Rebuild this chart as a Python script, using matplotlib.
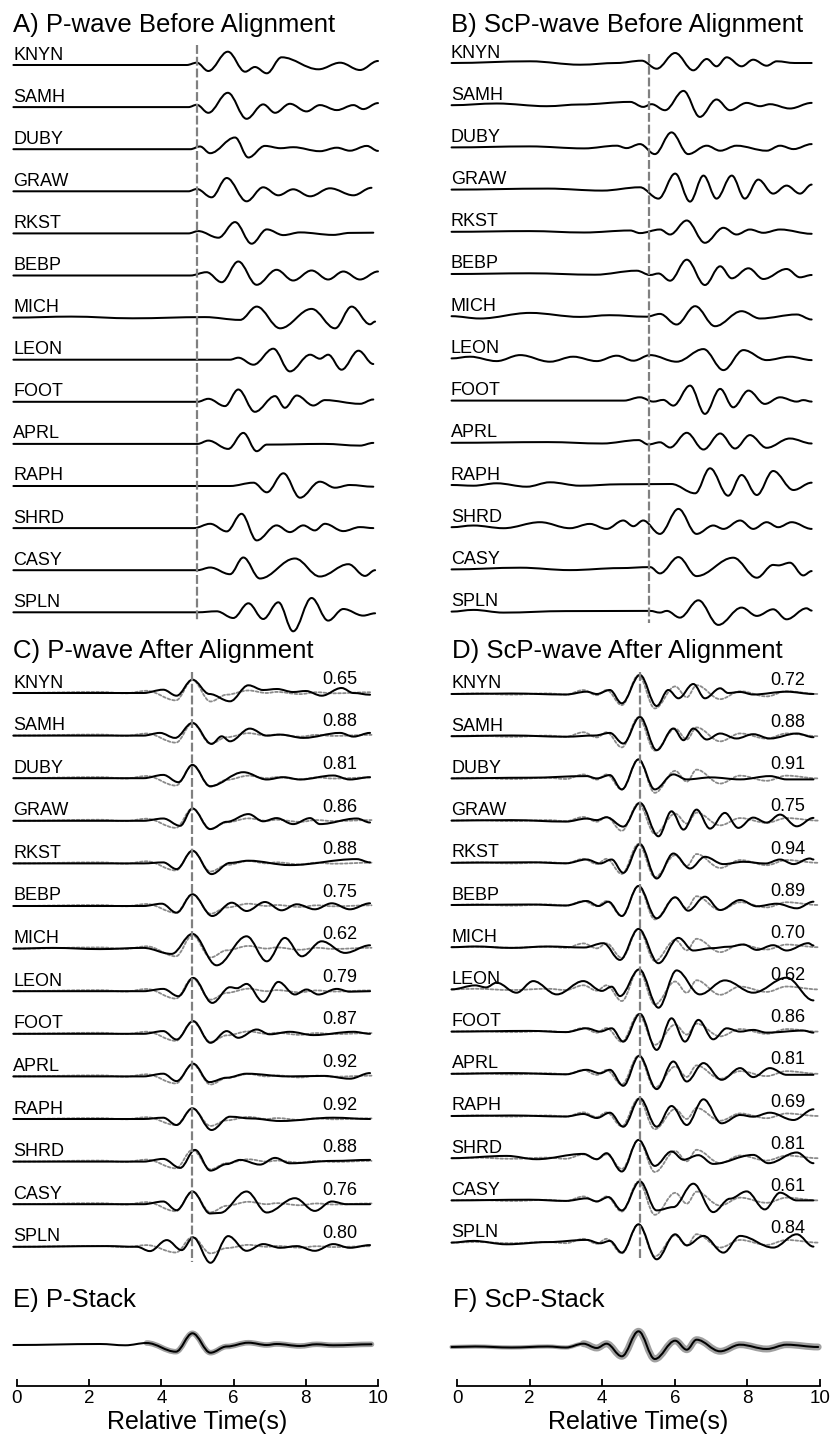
import matplotlib
matplotlib.use("Agg")
import matplotlib.pyplot as plt
from matplotlib.path import Path
from matplotlib.patches import PathPatch

plt.rcParams['font.family'] = ['Liberation Sans', 'DejaVu Sans']

# station order, top to bottom
stations = ["KNYN", "SAMH", "DUBY", "GRAW", "RKST", "BEBP", "MICH",
            "LEON", "FOOT", "APRL", "RAPH", "SHRD", "CASY", "SPLN"]

# waveform turning points: (time s, amplitude px, up = +)
p_before = [
    [(-0.1, 0), (4.70, 0), (4.98, 2.3), (5.30, -6), (5.84, 13.3), (6.32, -6.7), (6.59, -2), (6.92, -8.3), (7.33, 7.7), (8.35, -4.3), (8.95, 2.3), (9.50, -5), (10.0, 4)],
    [(-0.1, 0), (4.75, 0), (4.98, 2.3), (5.30, -5.7), (5.84, 14.3), (6.36, -11.7), (6.82, 2.7), (7.15, -5.7), (7.56, 3.3), (8.02, -4.3), (8.39, 2), (8.86, -3), (9.32, 2), (9.59, -2), (10.0, 4)],
    [(-0.1, 0), (4.80, 0), (5.07, 2.7), (5.35, -4), (6.04, 11.7), (6.41, -8.3), (6.87, 3.3), (7.30, 1), (7.65, 2), (8.39, -2), (8.86, 1.5), (9.22, -1.5), (9.69, 3.3), (10.0, -1.7)],
    [(-0.1, 0), (4.75, 0), (4.98, 2.3), (5.39, -6), (5.81, 13.3), (6.36, -10), (6.82, 4), (7.24, -4), (7.65, 2), (8.12, -5), (8.67, 3), (9.32, -4), (9.82, 3.5)],
    [(-0.1, 0), (4.75, 0), (5.02, 2.3), (5.58, -4.3), (6.04, 11.3), (6.50, -10.3), (6.92, 4), (7.38, -1.7), (7.84, 1), (8.76, -1.5), (9.22, 0.5), (9.87, 0.7)],
    [(-0.1, 0), (4.80, 0), (5.25, 3.3), (5.67, -6.7), (6.13, 14), (6.64, -9.3), (7.19, 5.7), (7.65, -5), (8.16, 5), (8.62, -4), (9.04, 4), (9.50, -4), (10.0, 4)],
    [(-0.1, 0), (1.5, 1), (3.2, -0.7), (5.2, 0.5), (6.18, -2.3), (6.64, 11), (7.29, -10.7), (8.16, 8.7), (8.81, -10.7), (9.27, 11), (9.78, -6.7), (9.92, -4)],
    [(-0.1, 0), (5.9, 0), (6.13, 2), (6.55, -5), (7.10, 11), (7.56, -11.7), (8.12, 5), (8.39, 1), (8.62, 5), (8.99, -10), (9.46, 9), (9.87, -4.3)],
    [(-0.1, 0), (5.0, 0), (5.30, 3), (5.76, -4.3), (6.13, 12.3), (6.59, -10), (7.15, 5.7), (7.42, -6), (7.75, 6.3), (8.21, -3.7), (8.53, 1.7), (9.50, -2), (9.87, 2.3)],
    [(-0.1, 0), (5.0, 0), (5.30, 3.3), (5.85, -5), (6.27, 11), (6.64, -7.3), (6.92, -0.7), (8.5, 0), (9.50, -1.7), (9.87, 1)],
    [(-0.1, 0), (5.9, 0), (6.55, 3.3), (6.92, -6.3), (7.38, 12.7), (7.84, -11.7), (8.39, 4.3), (8.81, -1.7), (9.22, 1), (9.87, -0.7)],
    [(-0.1, 0), (4.9, 0), (5.35, 4.3), (5.81, -3.3), (6.22, 14.3), (6.64, -12.3), (7.19, 2.7), (7.56, -4), (7.93, 2.7), (8.25, -2.3), (8.53, 4.3), (9.04, -3), (9.50, 1), (9.87, 0)],
    [(-0.1, 0), (5.0, 0), (5.35, 2.7), (5.90, -4), (6.27, 12.7), (6.73, -8.3), (7.70, 11.7), (8.39, -6.3), (9.18, 6), (9.64, -5.7), (9.92, 0)],
    [(-0.1, 0), (5.0, 0), (5.53, 1), (5.99, -5.7), (6.41, 9), (6.82, -6.7), (7.24, 10), (7.65, -19), (8.16, 14.3), (8.62, -8.3), (9.04, 3.3), (9.59, -3.3), (9.92, -1)],
]

scp_before = [
    [(-0.15, 0), (2.01, 1.7), (3.39, -1.7), (4.4, 0), (5.09, 2.3), (5.50, -5.7), (6.01, 10), (6.51, -7.3), (6.88, 4), (7.15, -3.3), (7.43, 5.7), (7.84, -3.3), (8.16, 3.3), (8.53, -2.7), (8.81, 1.7), (9.3, 0), (9.77, 0)],
    [(-0.15, 0), (1.09, 1.7), (2.47, -1), (3.39, 0.7), (4.77, 3.3), (5.13, -1.7), (5.36, 1), (5.73, -5), (6.24, 14.3), (6.69, -11.7), (7.15, 5.7), (7.52, -5), (7.98, 2.3), (8.35, -1), (8.62, 1), (9.17, -3.3), (9.77, 2.3)],
    [(-0.15, 0), (2.0, 1), (3.5, -1), (4.40, 1.7), (4.67, -0.7), (5.04, 3.3), (5.45, -6.7), (5.91, 15), (6.37, -6.7), (6.88, 1.7), (7.25, -3.3), (7.70, 1.7), (8.53, -3.3), (8.90, 1.7), (9.27, -1.7), (9.77, 3.3)],
    [(-0.15, 0), (2.5, 1), (4.0, -1), (5.04, 2.3), (5.55, -9), (6.01, 16), (6.42, -12), (6.79, 14), (7.15, -9), (7.57, 14), (7.93, -9), (8.30, 10), (8.71, -4), (9.08, 4), (9.45, -4), (9.77, 5)],
    [(-0.15, 0), (2.0, 0.7), (3.5, -0.7), (4.77, 1.3), (5.04, -1.3), (5.59, 2.3), (5.87, -2.7), (6.33, 11.3), (6.83, -11), (7.34, 4), (7.70, -2.7), (8.07, 2.3), (8.44, -1), (8.90, 2.3), (9.77, -2)],
    [(-0.15, 0), (2.0, 0.7), (3.8, -0.7), (4.95, 3.3), (5.32, -1), (5.55, 0.5), (5.87, -6.7), (6.33, 14.3), (6.83, -11), (7.25, 7.7), (7.57, -4.3), (8.03, 5.7), (8.44, -5), (9.08, 5), (9.45, -3.3), (9.77, -1)],
    [(-0.15, 0), (0.63, -2.3), (2.01, 3.3), (3.39, -0.7), (4.2, 1), (5.22, -0.5), (5.59, 2.3), (6.05, -8.3), (6.56, 10), (7.11, -10), (7.84, 5), (8.35, -2.3), (9.36, 1.7), (9.77, -3.3)],
    [(-0.15, 0), (0.36, 1.7), (1.09, -2.7), (1.74, 3.3), (2.56, -3.3), (3.20, 1.7), (3.85, -2.7), (4.40, 2.7), (4.86, -2.3), (5.32, 3.3), (6.05, -3.3), (6.79, 9.3), (7.34, -11.7), (7.89, 8.3), (8.53, -1.7), (9.17, 1.7), (9.77, -1.7)],
    [(-0.15, 0), (4.6, 0), (5.04, 3.3), (5.41, -1), (5.68, 0.7), (5.96, -5), (6.42, 15), (6.83, -13.3), (7.25, 11.7), (7.61, -6.7), (8.03, 10), (8.48, -3.3), (8.90, 3.3), (9.36, -1), (9.54, 0.5), (9.77, -1)],
    [(-0.15, 0), (2.5, 0.7), (4.0, -0.7), (5.0, 2.7), (5.27, -1.7), (5.59, 0.5), (5.87, -4.7), (6.33, 10), (6.79, -6.7), (7.25, 9.3), (7.66, -5.7), (8.07, 7.7), (8.53, -5), (9.17, 4.3), (9.77, -0.7)],
    [(-0.15, 0), (0.45, -0.7), (1.09, 1.7), (1.92, -1.7), (2.56, 2.7), (3.39, -0.7), (4.5, 0.7), (5.9, 1), (6.56, -8.3), (6.97, 16.7), (7.47, -10.7), (7.84, 10), (8.26, -10), (8.71, 14), (9.27, -5), (9.77, 2.3)],
    [(-0.15, 0), (0.45, 1.7), (1.28, -1), (2.29, 5), (3.11, -1), (3.66, 3.3), (4.12, -1.7), (4.58, 6.7), (4.86, 1), (5.13, 6.7), (5.59, -6.7), (6.10, 18.3), (6.60, -6.7), (7.06, 1.7), (7.34, -1.7), (7.80, 6.7), (8.16, -1.7), (8.53, 5), (8.85, 0), (9.22, 5), (9.77, -1.7)],
    [(-0.15, 0), (1.74, 1.7), (3.11, -0.7), (4.49, 1.3), (5.32, 2.3), (5.59, -4), (6.10, 12.3), (6.60, -6.7), (7.61, 11.7), (8.26, -8.3), (8.71, 4.5), (8.85, 4), (9.17, 6.7), (9.54, -6), (9.77, -1.7)],
    [(-0.15, 0), (0.45, 1.7), (1.28, -1), (3.0, 0.5), (5.32, 0.7), (5.59, -1), (5.78, 0.7), (6.14, -6), (6.65, 11.3), (7.20, -13.3), (7.84, 4), (8.26, -4.3), (8.71, 2.3), (9.08, -7.7), (9.63, 3.3), (9.77, 1)],
]

p_after = [
    [(-0.1, 0), (3.5, 0), (4.05, 3.3), (4.42, -2.7), (4.86, 13.3), (5.33, -1), (5.90, -8.3), (6.41, 7.7), (6.82, 3), (7.20, 4), (7.65, 1), (8.0, 2), (8.44, -2.7), (8.99, 5), (9.32, 0), (9.78, -1.7)],
    [(-0.1, 0), (3.5, 0), (3.96, 2.7), (4.38, -2.3), (4.86, 12.7), (5.39, -8.3), (5.67, -0.7), (5.90, -5.7), (6.45, 7), (6.92, 0), (7.29, 1), (7.93, -2.3), (8.95, 2.7), (9.32, -1), (9.78, 2.7)],
    [(-0.1, 0), (3.5, 0), (4.05, 3.3), (4.47, -4), (4.86, 13.3), (5.35, -8), (6.27, 6), (6.92, -1.3), (7.38, 1), (7.84, -1.3), (8.76, 2.7), (9.22, -1.3), (9.78, 1)],
    [(-0.1, 0), (3.5, 0), (4.05, 2.3), (4.52, -5), (4.86, 12.3), (5.35, -8.3), (5.81, -1), (6.41, 6.7), (6.82, -0.5), (7.19, 2.7), (7.65, -3.3), (8.12, 2.7), (8.39, -3.3), (9.41, 2.3), (9.78, -1.7)],
    [(-0.1, 0), (3.5, 0), (4.05, 1), (4.42, -5.7), (4.86, 12.7), (5.39, -10.7), (5.90, 0.5), (6.41, 2.7), (7.56, -1.7), (9.41, 4.3), (9.78, 1)],
    [(-0.1, 0), (3.5, 0), (4.01, 2.3), (4.42, -6.7), (4.86, 11.7), (5.41, -10), (5.95, 3.3), (6.36, -5), (6.87, 4), (7.33, -4.3), (7.75, 1.7), (8.25, -3.3), (8.72, 2.7), (9.22, -3.3), (9.78, 2.7)],
    [(-0.1, 0), (1.0, 0.7), (2.3, -0.5), (3.5, 0.7), (4.28, -5.3), (4.86, 14.7), (5.53, -16.7), (6.36, 12.3), (6.92, -12.7), (7.42, 10.7), (7.89, -7.7), (8.44, 7.3), (9.09, -4.3), (9.78, 3.3)],
    [(-0.1, 0), (3.5, 0), (4.05, 2.3), (4.47, -5), (4.88, 13.3), (5.41, -11.7), (5.90, 4), (6.09, 3), (6.36, 7.3), (6.82, -10.7), (7.24, 9.3), (7.70, -3.3), (8.02, 1.7), (8.35, -3.3), (8.86, 2.3), (9.22, -0.5), (9.78, 0)],
    [(-0.1, 0), (3.5, 0), (4.05, 2.7), (4.42, -5.7), (4.88, 12.7), (5.36, -9), (5.81, 2.7), (6.13, -4), (6.64, 4.3), (7.0, -0.5), (7.56, 2), (8.21, -1.3), (9.32, 2), (9.78, 0)],
    [(-0.1, 0), (3.5, 0), (4.05, 2.7), (4.42, -4.7), (4.88, 12.7), (5.33, -5.7), (5.81, -1.3), (6.36, 2.7), (7.5, 0), (8.5, 0.5), (9.22, -2.3), (9.78, 3.3)],
    [(-0.1, 0), (3.5, 0), (4.05, 1.3), (4.42, -6), (4.86, 10.7), (5.39, -11), (5.90, 2.3), (6.5, 0.5), (7.29, -2), (8.76, 1.3), (9.78, 0)],
    [(-0.1, 0), (3.5, 0), (4.05, 2.7), (4.52, -6.3), (4.93, 11.7), (5.36, -9), (5.81, -2.5), (6.18, 1.7), (6.73, -3), (7.15, 3.7), (7.56, -1.7), (8.76, 0.7), (9.78, 1.7)],
    [(-0.1, 0), (3.5, 0), (4.05, 2.7), (4.42, -6), (4.86, 12.7), (5.35, -9.3), (5.62, -8.7), (6.36, 12.7), (6.92, -8.3), (7.70, 6), (8.25, -6.7), (8.72, 2.7), (9.13, 0), (9.78, 0)],
    [(-0.1, 0), (2.5, 0.7), (3.32, 0), (3.68, -4.3), (4.15, 6.7), (4.56, -3.3), (4.88, 9.3), (5.36, -16), (5.85, 10.7), (6.36, -4), (6.82, 2.7), (7.29, -1), (7.75, 0.7), (8.25, -4), (8.76, 2.7), (9.22, -1), (9.78, 1.7)],
]

scp_after = [
    [(-0.15, 0), (1.5, 0.5), (3.0, -0.5), (3.57, 2.3), (3.85, 0), (4.21, 4), (4.54, -9.3), (5.04, 19), (5.50, -12), (5.82, 4), (6.10, -4.3), (6.51, 10), (6.83, -4.3), (7.25, 5.7), (7.47, 1), (7.80, 2), (8.16, -0.5), (9.08, 2.3), (9.82, 0)],
    [(-0.15, 0), (1.5, 0.7), (3.0, -0.5), (3.8, 0.7), (4.21, 3.3), (4.58, -7.3), (5.04, 19.3), (5.50, -14), (5.96, 7.7), (6.24, -4), (6.51, 7.7), (6.88, -3.3), (7.25, 2.7), (7.70, -2.3), (8.16, 2), (8.62, -2.3), (9.36, 2.7), (9.82, -1)],
    [(-0.15, 0), (2.0, 0.7), (3.57, 2.3), (3.85, 0), (4.21, 3.3), (4.54, -11), (5.00, 19), (5.45, -11), (5.96, 4), (6.33, -1), (7.0, 1), (7.8, -1), (8.62, 2.3), (9.08, -1), (9.82, -1)],
    [(-0.15, 0), (1.5, 0.5), (3.0, -1), (3.57, 2), (3.85, 0.5), (4.12, 3.3), (4.58, -6), (5.04, 17.7), (5.55, -15.7), (5.91, 9.3), (6.24, -9), (6.60, 11), (6.97, -8), (7.38, 7.7), (7.75, -7.3), (8.16, 3), (8.53, -2), (8.90, 6), (9.36, -5.7), (9.82, 2.7)],
    [(-0.15, 0), (2.0, 0.5), (3.0, -0.5), (3.57, 3.3), (3.94, -0.7), (4.26, 3.3), (4.58, -10), (5.04, 18.7), (5.50, -15.7), (5.96, 9.3), (6.42, -5.7), (6.83, 6), (7.34, -1.3), (7.89, 1), (8.5, -0.7), (8.90, 3.3), (9.27, -1.3), (9.72, 4.3), (9.82, 3.3)],
    [(-0.15, 0), (2.0, 0.5), (3.0, -0.5), (3.57, 4), (3.90, -1), (4.17, 3.3), (4.54, -11), (5.00, 19), (5.50, -13.3), (6.01, 7.7), (6.37, -5.7), (6.83, 8.3), (7.25, -5), (7.80, 5), (8.26, -1.3), (8.81, 1.3), (9.36, -3.3), (9.82, 3.3)],
    [(-0.15, 0), (0.5, 0.7), (1.5, -0.7), (2.5, 0.7), (3.5, -0.3), (4.03, 4), (4.49, -12.7), (5.00, 18.3), (5.55, -16), (6.10, 9.3), (6.51, -3.3), (7.0, -1), (7.5, 0.5), (7.89, 2.7), (8.26, -2.7), (8.71, 2), (9.08, -3.3), (9.68, 4), (9.82, 1.7)],
    [(-0.15, 0), (0.5, 4), (0.8, 2), (1.09, 6.7), (1.64, -3.3), (2.10, 8.3), (2.75, -5), (3.48, 8.3), (3.99, -1.5), (4.26, 2.7), (4.49, -6.7), (5.02, 20), (5.55, -18.3), (6.05, 19), (6.69, -5), (7.38, 9), (8.16, -3.3), (9.08, 11.7), (9.82, -11)],
    [(-0.15, 0), (2.0, 0.7), (3.0, -0.5), (3.57, 3.3), (3.94, 0), (4.26, 3.3), (4.58, -10), (5.04, 17.7), (5.50, -18.3), (5.91, 13.3), (6.28, -10), (6.65, 11.7), (7.06, -7.7), (7.43, 3.3), (7.80, 0), (8.16, 1.7), (8.53, -1), (9.54, 1), (9.82, -1)],
    [(-0.15, 0), (1.5, 0.7), (3.0, -0.5), (3.57, 4), (3.94, 0.5), (4.21, 4), (4.58, -12), (5.02, 18), (5.50, -15.3), (5.96, 12.3), (6.33, -7.7), (6.79, 10.7), (7.29, -6), (7.80, 5.7), (8.16, -3.3), (8.62, 5.7), (9.08, -1), (9.82, -1)],
    [(-0.15, 0), (1.5, 0.5), (3.0, -0.5), (3.48, 2), (3.85, -2), (4.21, 3.3), (4.58, -10.7), (5.04, 17.7), (5.50, -10.7), (5.91, 10), (6.33, -9), (6.79, 16.7), (7.29, -7.3), (7.80, 1), (8.16, -0.7), (8.62, 3.3), (9.27, -4), (9.82, 6.7)],
    [(-0.15, 0), (1.37, 2.3), (2.19, -1), (3.48, 4.3), (3.85, -1), (4.12, 5), (4.54, -13.3), (5.00, 18.3), (5.45, -7.7), (5.91, 6.7), (6.24, -1.5), (6.65, 3), (7.06, -5.7), (8.16, 3.3), (8.58, -5), (9.36, 5.7), (9.82, -5)],
    [(-0.15, 0), (2.0, 0.7), (3.0, -0.5), (3.57, 2), (3.85, -1), (4.17, 3.3), (4.54, -10), (5.04, 19), (5.50, -10), (5.96, -6.7), (6.51, 16.7), (7.06, -11.7), (7.52, 1.7), (7.98, 9), (8.48, -9), (8.90, 7.7), (9.36, 0), (9.82, 0)],
    [(-0.15, 0), (0.45, 1.7), (1.37, -1.7), (2.5, 0.5), (3.57, 2.7), (3.94, -0.7), (4.21, 1.7), (4.54, -10), (5.00, 18.3), (5.50, -16.7), (6.01, 8.3), (6.33, -2.7), (6.79, 6.7), (7.34, -10), (7.80, 6.7), (8.71, -5), (9.36, 8.3), (9.82, -4)],
]

p_stack = [(-0.1, 0), (2.3, 1), (3.0, -0.3), (3.59, 2), (4.40, -6.7), (4.86, 11.7), (5.36, -7.7), (5.81, -1.5), (6.41, 2.3), (6.92, 0), (7.19, 1), (7.84, -1), (8.30, 0.7), (8.76, -0.3), (9.82, 0.7)]
scp_stack = [(-0.15, 0), (0.5, 0.5), (1.5, -0.5), (2.5, 0.5), (3.0, -0.5), (3.48, 3.3), (3.85, -1), (4.12, 3.3), (4.54, -9.3), (5.00, 15.7), (5.45, -12), (6.01, 6.3), (6.33, -2.7), (6.60, 7.3), (7.25, -4.3), (7.80, 2.3), (8.53, -2), (9.08, 2.3), (9.95, 0)]

# stack overlay gain per station (dotted curves in C and D)
p_gain = [1.1, 1.05, 1.1, 1.05, 1.05, 1.0, 1.15, 1.1, 1.05, 1.05, 0.9, 1.0, 1.05, 0.85]
scp_gain = [1.2, 1.2, 1.2, 1.1, 1.2, 1.2, 1.15, 1.25, 1.1, 1.15, 1.1, 1.15, 1.2, 1.15]

# cross-correlation coefficients
p_cc = [0.65, 0.88, 0.81, 0.86, 0.88, 0.75, 0.62, 0.79, 0.87, 0.92, 0.92, 0.88, 0.76, 0.80]
scp_cc = [0.72, 0.88, 0.91, 0.75, 0.94, 0.89, 0.70, 0.62, 0.86, 0.81, 0.69, 0.81, 0.61, 0.84]

K = 0.363  # bezier handle, gives a cosine-like swing between turning points
W, H = 834, 1438
AX_BOTTOM = 1386


def draw_wave(ax, pts, base, gain=1.0, **style):
    """Smooth curve through turning points, drawn as a bezier path."""
    verts = [(pts[0][0], base - gain * pts[0][1])]
    codes = [Path.MOVETO]
    for (t0, a0), (t1, a1) in zip(pts[:-1], pts[1:]):
        h = K * (t1 - t0)
        y0 = base - gain * a0
        y1 = base - gain * a1
        verts += [(t0 + h, y0), (t1 - h, y1), (t1, y1)]
        codes += [Path.CURVE4] * 3
    ax.add_patch(PathPatch(Path(verts, codes), fill=False, clip_on=False,
                           capstyle='round', joinstyle='round', **style))


def column_axes(x0, x10):
    ax = fig.add_axes([x0 / W, (H - AX_BOTTOM) / H, (x10 - x0) / W, AX_BOTTOM / H])
    ax.set_xlim(0, 10)
    ax.set_ylim(AX_BOTTOM, 0)
    ax.patch.set_visible(False)
    for s in ('left', 'top', 'right'):
        ax.spines[s].set_visible(False)
    ax.spines['bottom'].set_linewidth(1.3)
    ax.set_yticks([])
    ax.set_xticks(range(0, 11, 2))
    ax.tick_params(axis='x', direction='in', length=5, width=1.3, labelsize=13.5, pad=3)
    ax.set_xlabel('Relative Time(s)', fontsize=18, labelpad=2)
    return ax


fig = plt.figure(figsize=(W / 100, H / 100), dpi=100)
left = column_axes(17, 378)
right = column_axes(457, 820)

solid = dict(edgecolor='black', linewidth=1.45)
dotted = dict(edgecolor='#8a8a8a', linewidth=1.3, linestyle=(0, (1.5, 1.2)))
dash_kw = dict(color='#808080', linewidth=1.6, dashes=(4, 1.3))
label_fs = 13
title_fs = 18.5

panels = [
    # ax, title, title_x, title_y, label_x, first row, row step
    (left, "A) P-wave Before Alignment", -0.11, 32, -0.11, 65, 42.1),
    (right, "B) ScP-wave Before Alignment", -0.17, 32, -0.17, 63, 42.2),
    (left, "C) P-wave After Alignment", -0.11, 658, -0.11, 693, 42.6),
    (right, "D) ScP-wave After Alignment", -0.14, 658, -0.15, 694, 42.2),
]

for ax, title, tx, ty, lx, y0, dy in panels:
    ax.text(tx, ty, title, fontsize=title_fs, va='baseline', ha='left')
    for i, name in enumerate(stations):
        base = y0 + dy * i
        ax.text(lx, base - 5.5, name, fontsize=label_fs, va='baseline', ha='left')

# panels A, B: raw traces
for i in range(len(stations)):
    draw_wave(left, p_before[i], 65 + 42.1 * i, **solid)
    draw_wave(right, scp_before[i], 63 + 42.2 * i, **solid)
left.plot([4.98, 4.98], [45, 622], **dash_kw)
right.plot([5.30, 5.30], [54, 623], **dash_kw)

# panels C, D: aligned traces with stack overlay and correlation values
for i in range(len(stations)):
    bc = 693 + 42.6 * i
    bd = 694 + 42.2 * i
    draw_wave(left, p_stack, bc, gain=p_gain[i], **dotted)
    draw_wave(left, p_after[i], bc, **solid)
    draw_wave(right, scp_stack, bd, gain=scp_gain[i], **dotted)
    draw_wave(right, scp_after[i], bd, **solid)
    left.text(9.42, bc - 9.3, f"{p_cc[i]:.2f}", fontsize=label_fs, ha='right', va='baseline')
    right.text(9.59, bd - 9.3, f"{scp_cc[i]:.2f}", fontsize=label_fs, ha='right', va='baseline')
left.plot([4.86, 4.86], [672, 1262], **dash_kw)
right.plot([5.04, 5.04], [672, 1260], **dash_kw)

# panels E, F: stacks with spread band
left.text(-0.11, 1307, "E) P-Stack", fontsize=title_fs, va='baseline', ha='left')
right.text(-0.1, 1307, "F) ScP-Stack", fontsize=title_fs, va='baseline', ha='left')
band = dict(edgecolor='#a0a0a0')
draw_wave(left, [p for p in p_stack if p[0] >= 3.4], 1345, linewidth=4.0, **band)
draw_wave(left, p_stack, 1345, **solid)
draw_wave(right, scp_stack, 1347, linewidth=3.0, **band)
draw_wave(right, [p for p in scp_stack if p[0] >= 3.4], 1347, linewidth=5.0, **band)
draw_wave(right, scp_stack, 1347, **solid)

fig.savefig("out.png", dpi=100)
